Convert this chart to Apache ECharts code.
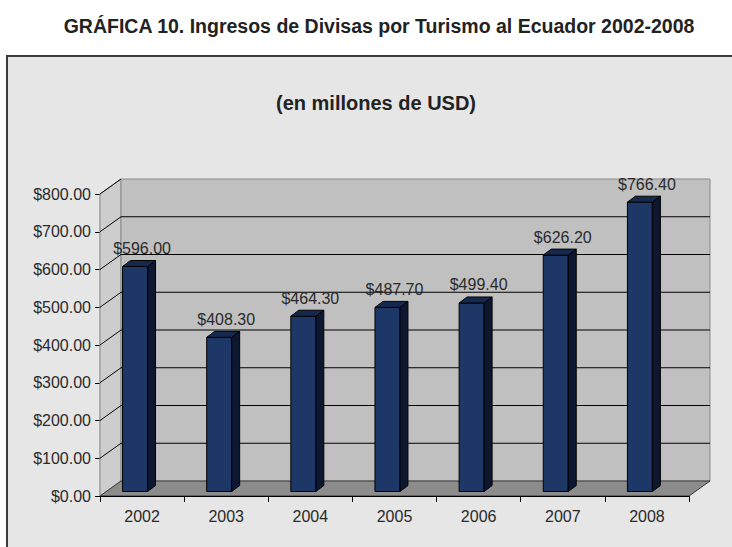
<!DOCTYPE html>
<html>
<head>
<meta charset="utf-8">
<title>Ingresos de Divisas por Turismo al Ecuador 2002-2008</title>
<script src="https://cdn.jsdelivr.net/npm/echarts@6/dist/echarts.min.js"></script>
<style>
  html, body { margin: 0; padding: 0; background: #ffffff; }
  #chart { width: 732px; height: 547px; }
</style>
</head>
<body>
<div id="chart"></div>
<script>
// Ingresos de divisas por turismo (millones de USD)
const years = ['2002', '2003', '2004', '2005', '2006', '2007', '2008'];
const incomes = [596.00, 408.30, 464.30, 487.70, 499.40, 626.20, 766.40];
const axisMin = 0;
const axisMax = 800;
const axisStep = 100;

const titleText = 'GRÁFICA 10. Ingresos de Divisas por Turismo al Ecuador 2002-2008';
const subtitleText = '(en millones de USD)';

const FONT = "'Liberation Sans', Arial, sans-serif";

// depth of the 3D box (back wall offset from the front plane)
const DEPTH_X = 21;
const DEPTH_Y = -15;

const money = v => '$' + Number(v).toFixed(2);

function renderWalls(params, api) {
  const n = years.length;
  const bw = api.size([1, 0])[0];
  const x0 = api.coord([0, axisMin])[0] - bw / 2;
  const x1 = api.coord([n - 1, axisMin])[0] + bw / 2;
  const yb = api.coord([0, axisMin])[1];
  const yt = api.coord([0, axisMax])[1];
  const children = [];
  // left side wall
  children.push({
    type: 'polygon',
    shape: { points: [[x0, yb], [x0 + DEPTH_X, yb + DEPTH_Y], [x0 + DEPTH_X, yt + DEPTH_Y], [x0, yt]] },
    style: { fill: '#cdcdcd', stroke: '#8a8a8a', lineWidth: 1 }
  });
  // back wall
  children.push({
    type: 'rect',
    shape: { x: x0 + DEPTH_X, y: yt + DEPTH_Y, width: x1 - x0, height: yb - yt },
    style: { fill: '#c0c0c0', stroke: '#8a8a8a', lineWidth: 1 }
  });
  // floor
  children.push({
    type: 'polygon',
    shape: { points: [[x0, yb], [x1, yb], [x1 + DEPTH_X, yb + DEPTH_Y], [x0 + DEPTH_X, yb + DEPTH_Y]] },
    style: { fill: '#8c8c8c', stroke: '#3a3a3a', lineWidth: 1 }
  });
  // gridlines on back wall + side wall
  for (let v = axisMin + axisStep; v <= axisMax; v += axisStep) {
    const y = api.coord([0, v])[1];
    if (v !== axisMax) {
      children.push({
        type: 'line',
        shape: { x1: x0 + DEPTH_X, y1: y + DEPTH_Y, x2: x1 + DEPTH_X, y2: y + DEPTH_Y },
        style: { stroke: '#000000', lineWidth: 1.2 }
      });
    }
    children.push({
      type: 'line',
      shape: { x1: x0, y1: y, x2: x0 + DEPTH_X, y2: y + DEPTH_Y },
      style: { stroke: '#000000', lineWidth: 1 }
    });
  }
  return { type: 'group', children: children };
}

function renderBar(params, api) {
  const idx = api.value(0);
  const val = api.value(1);
  const bw = api.size([1, 0])[0];
  const base = api.coord([idx, axisMin]);
  const top = api.coord([idx, val]);
  const cx = base[0];
  const lift = 4.5;
  const fw = bw * 0.297;
  const fx = cx - bw * 0.232;
  const dx = bw * 0.095;
  const dy = -6;
  const yTop = top[1] - lift;
  const yBot = base[1] - lift;
  return {
    type: 'group',
    children: [
      {
        type: 'rect',
        shape: { x: fx, y: yTop, width: fw, height: yBot - yTop },
        style: { fill: '#1d3767', stroke: '#000000', lineWidth: 1 }
      },
      {
        type: 'polygon',
        shape: { points: [[fx + fw, yTop], [fx + fw + dx, yTop + dy], [fx + fw + dx, yBot + dy], [fx + fw, yBot]] },
        style: { fill: '#0d1830', stroke: '#000000', lineWidth: 1 }
      },
      {
        type: 'polygon',
        shape: { points: [[fx, yTop], [fx + dx, yTop + dy], [fx + fw + dx, yTop + dy], [fx + fw, yTop]] },
        style: { fill: '#15294f', stroke: '#000000', lineWidth: 1 }
      },
      {
        type: 'text',
        x: cx,
        y: yTop + dy - 12,
        style: {
          text: money(val),
          align: 'center',
          verticalAlign: 'middle',
          fill: '#2a2a2a',
          font: '16px ' + FONT
        }
      }
    ]
  };
}

const chart = echarts.init(document.getElementById('chart'), null, { renderer: 'svg' });

chart.setOption({
  animation: false,
  backgroundColor: '#ffffff',
  title: [
    {
      text: titleText,
      left: 374,
      top: 11,
      textAlign: 'center',
      textStyle: { fontFamily: FONT, fontWeight: 'bold', fontSize: 19.5, color: '#222222' }
    },
    {
      text: subtitleText,
      left: 371,
      top: 88,
      textAlign: 'center',
      textStyle: { fontFamily: FONT, fontWeight: 'bold', fontSize: 20, color: '#222222' }
    }
  ],
  graphic: [
    {
      type: 'rect',
      z: -10,
      shape: { x: 7, y: 56, width: 740, height: 510 },
      style: { fill: '#e6e6e6', stroke: '#3c3c3c', lineWidth: 2 }
    }
  ],
  grid: { left: 100, right: 43, top: 194, height: 302, containLabel: false },
  xAxis: {
    type: 'category',
    data: years,
    axisLine: { lineStyle: { color: '#000000', width: 1.2 } },
    axisTick: { show: true, length: 6, lineStyle: { color: '#000000' } },
    axisLabel: { margin: 12, color: '#2a2a2a', fontFamily: FONT, fontSize: 16 },
    z: 5
  },
  yAxis: {
    type: 'value',
    min: axisMin,
    max: axisMax,
    interval: axisStep,
    axisLine: { show: true, lineStyle: { color: '#000000', width: 1.2 } },
    axisTick: { show: true, length: 5, lineStyle: { color: '#000000' } },
    axisLabel: { margin: 9, color: '#2a2a2a', fontFamily: FONT, fontSize: 16, formatter: money },
    splitLine: { show: false }
  },
  series: [
    {
      type: 'custom',
      name: 'walls',
      z: 1,
      silent: true,
      renderItem: renderWalls,
      data: [[0, axisMin]]
    },
    {
      type: 'custom',
      name: 'Ingresos',
      z: 3,
      renderItem: renderBar,
      data: incomes.map((v, i) => [i, v])
    }
  ]
});
</script>
</body>
</html>
